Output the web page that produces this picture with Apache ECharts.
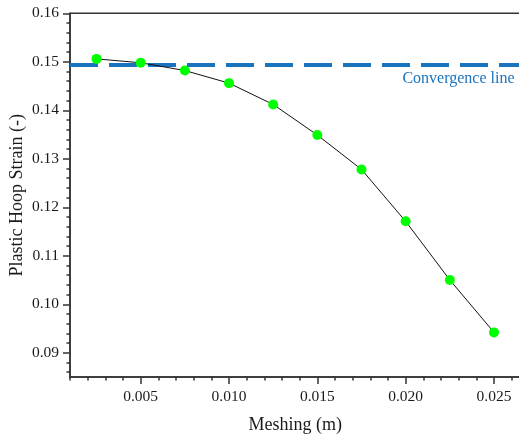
<!DOCTYPE html>
<html>
<head>
<meta charset="utf-8">
<script src="https://cdn.jsdelivr.net/npm/echarts@6/dist/echarts.min.js"></script>
<style>
  html, body { margin: 0; padding: 0; background: #fff; }
  #chart { width: 519px; height: 439px; }
</style>
</head>
<body>
<div id="chart"></div>
<script>
// Mesh sensitivity study: plastic hoop strain vs. element size
const meshSizes = [0.0025, 0.005, 0.0075, 0.010, 0.0125, 0.015, 0.0175, 0.020, 0.0225, 0.025];
const hoopStrain = [0.1506, 0.1498, 0.1482, 0.1456, 0.1412, 0.1349, 0.1278, 0.1171, 0.1050, 0.0942];
const convergenceStrain = 0.1494;
const convergenceLabel = 'Convergence line';

// Axis ranges and tick positions
const xRange = [0.001, 0.0265];
const yRange = [0.085, 0.16];
const xMajorTicks = [0.005, 0.010, 0.015, 0.020, 0.025];
const xMinorTicks = [0.001, 0.002, 0.003, 0.004, 0.005, 0.006, 0.007, 0.008, 0.009, 0.010,
                     0.011, 0.012, 0.013, 0.014, 0.015, 0.016, 0.017, 0.018, 0.019, 0.020,
                     0.021, 0.022, 0.023, 0.024, 0.025, 0.026];
const yMajorTicks = [0.09, 0.10, 0.11, 0.12, 0.13, 0.14, 0.15, 0.16];
const yMinorTicks = [0.086, 0.088, 0.090, 0.092, 0.094, 0.096, 0.098, 0.100, 0.102, 0.104,
                     0.106, 0.108, 0.110, 0.112, 0.114, 0.116, 0.118, 0.120, 0.122, 0.124,
                     0.126, 0.128, 0.130, 0.132, 0.134, 0.136, 0.138, 0.140, 0.142, 0.144,
                     0.146, 0.148, 0.150, 0.152, 0.154, 0.156, 0.158, 0.160];

const FONT = "'Liberation Serif', 'Times New Roman', serif";
const AXIS_COLOR = '#333';
const TEXT_COLOR = '#1a1a1a';
const LINE_BLUE = '#1a73bd';

const chart = echarts.init(document.getElementById('chart'), null, { renderer: 'canvas' });

const axisLineStyle = { show: true, lineStyle: { color: AXIS_COLOR, width: 1.5 } };

const option = {
  animation: false,
  backgroundColor: '#fff',
  grid: {
    left: 70, top: 13.3, width: 450.5, height: 363.7,
    outerBoundsMode: 'none', containLabel: false,
    show: true, borderColor: AXIS_COLOR, borderWidth: 1.5, backgroundColor: 'transparent'
  },
  xAxis: [
    {
      type: 'value', min: xRange[0], max: xRange[1],
      name: 'Meshing (m)', nameLocation: 'middle', nameGap: 39, nameMoveOverlap: false,
      nameTextStyle: { fontFamily: FONT, fontSize: 18, color: TEXT_COLOR },
      axisLine: axisLineStyle,
      axisTick: { show: true, length: 7, customValues: xMajorTicks, lineStyle: { color: AXIS_COLOR, width: 1.5 } },
      axisLabel: {
        customValues: xMajorTicks, margin: 12,
        fontFamily: FONT, fontSize: 15.5, color: TEXT_COLOR,
        formatter: v => v.toFixed(3)
      },
      splitLine: { show: false }
    },
    {
      type: 'value', min: xRange[0], max: xRange[1], position: 'bottom',
      axisLine: { show: false },
      axisTick: { show: true, length: 3.5, customValues: xMinorTicks, lineStyle: { color: AXIS_COLOR, width: 1.5 } },
      axisLabel: { show: false },
      splitLine: { show: false }
    }
  ],
  yAxis: [
    {
      type: 'value', min: yRange[0], max: yRange[1],
      name: 'Plastic Hoop Strain (-)', nameLocation: 'middle', nameGap: 44, nameMoveOverlap: false,
      nameTextStyle: { fontFamily: FONT, fontSize: 18, color: TEXT_COLOR },
      axisLine: axisLineStyle,
      axisTick: { show: true, length: 7, customValues: yMajorTicks, lineStyle: { color: AXIS_COLOR, width: 1.5 } },
      axisLabel: {
        customValues: yMajorTicks, margin: 11,
        fontFamily: FONT, fontSize: 15.5, color: TEXT_COLOR,
        formatter: v => v.toFixed(2)
      },
      splitLine: { show: false }
    },
    {
      type: 'value', min: yRange[0], max: yRange[1], position: 'left',
      axisLine: { show: false },
      axisTick: { show: true, length: 3.5, customValues: yMinorTicks, lineStyle: { color: AXIS_COLOR, width: 1.5 } },
      axisLabel: { show: false },
      splitLine: { show: false }
    }
  ],
  series: [
    {
      type: 'line',
      xAxisIndex: 0, yAxisIndex: 0,
      data: meshSizes.map((x, i) => [x, hoopStrain[i]]),
      symbol: 'circle', symbolSize: 10,
      itemStyle: { color: '#00ff00', borderWidth: 0 },
      lineStyle: { color: '#111', width: 1 },
      z: 3,
      markLine: {
        silent: true,
        symbol: 'none',
        precision: 6,
        z: 2,
        lineStyle: { color: LINE_BLUE, width: 4, type: [28, 11] },
        label: {
          show: true, position: 'insideEndBottom',
          formatter: convergenceLabel,
          fontFamily: FONT, fontSize: 16, color: LINE_BLUE,
          distance: [6, 6]
        },
        data: [{ yAxis: convergenceStrain }]
      }
    }
  ]
};

chart.setOption(option);
</script>
</body>
</html>
